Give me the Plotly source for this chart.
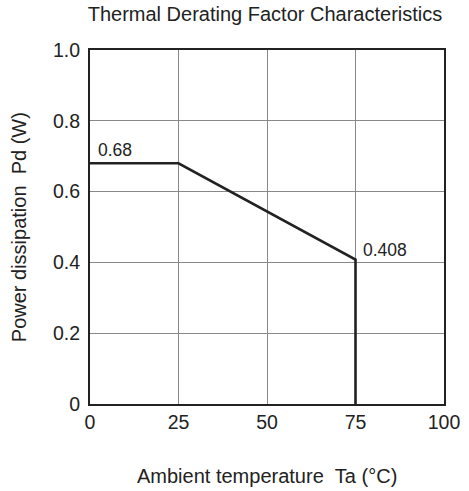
import plotly.graph_objects as go

# Data
temp_c = [0, 25, 75, 75]
power_w = [0.68, 0.68, 0.408, 0]
x_ticks = [0, 25, 50, 75, 100]
x_tick_labels = ["0", "25", "50", "75", "100"]
y_ticks = [0, 0.2, 0.4, 0.6, 0.8, 1.0]
y_tick_labels = ["0", "0.2", "0.4", "0.6", "0.8", "1.0"]
label_x = [0, 75]
label_y = [0.68, 0.408]
label_text = ["0.68", "0.408"]

# label placement offsets (style, px)
label_shift = [(6, 1), (5, -2)]

ink = "#222222"
font = "Liberation Sans, Arial, sans-serif"
tick_fs = 19.5
title_fs = 20

fig = go.Figure()
fig.add_trace(go.Scatter(x=temp_c, y=power_w, mode="lines",
                         line=dict(color=ink, width=2.6), showlegend=False,
                         hoverinfo="skip"))

for x, y, t, (dx, dy) in zip(label_x, label_y, label_text, label_shift):
    fig.add_annotation(x=x, y=y, text=t, showarrow=False, xanchor="left", yanchor="bottom",
                       xshift=dx, yshift=dy, font=dict(family=font, size=17.5, color=ink))

# axis titles
fig.add_annotation(xref="paper", yref="paper", x=0.5, y=-0.203,
                   text="Ambient temperature&nbsp;&nbsp;Ta (°C)",
                   showarrow=False, xanchor="center", yanchor="middle",
                   font=dict(family=font, size=title_fs, color=ink))
fig.add_annotation(xref="paper", yref="paper", x=-0.2, y=0.5,
                   text="Power dissipation&nbsp;&nbsp;Pd (W)",
                   showarrow=False, xanchor="center", yanchor="middle", textangle=-90,
                   font=dict(family=font, size=title_fs, color=ink))

fig.update_layout(
    width=469, height=491,
    margin=dict(l=90, r=25, t=50, b=87, autoexpand=False),
    paper_bgcolor="white", plot_bgcolor="white",
    font=dict(family=font, size=tick_fs, color=ink),
    title=dict(text="Thermal Derating Factor Characteristics", x=0.565, xanchor="center",
               y=0.972, yanchor="middle", font=dict(family=font, size=title_fs, color=ink)),
)
fig.update_xaxes(range=[0, 100], tickvals=x_ticks, ticktext=x_tick_labels,
                 showgrid=True, gridcolor="#888888", gridwidth=1, zeroline=False,
                 showline=True, mirror=True, linecolor=ink, linewidth=2,
                 ticks="", ticklabelstandoff=0, automargin=False,
                 tickfont=dict(size=tick_fs, color=ink))
fig.update_yaxes(range=[0, 1.0], tickvals=y_ticks, ticktext=y_tick_labels,
                 showgrid=True, gridcolor="#888888", gridwidth=1, zeroline=False,
                 showline=True, mirror=True, linecolor=ink, linewidth=2,
                 ticks="", ticklabelstandoff=4, automargin=False,
                 tickfont=dict(size=tick_fs, color=ink))

fig.write_html("out.html", config={"displayModeBar": False},
               post_script="document.body.style.margin='0';")
